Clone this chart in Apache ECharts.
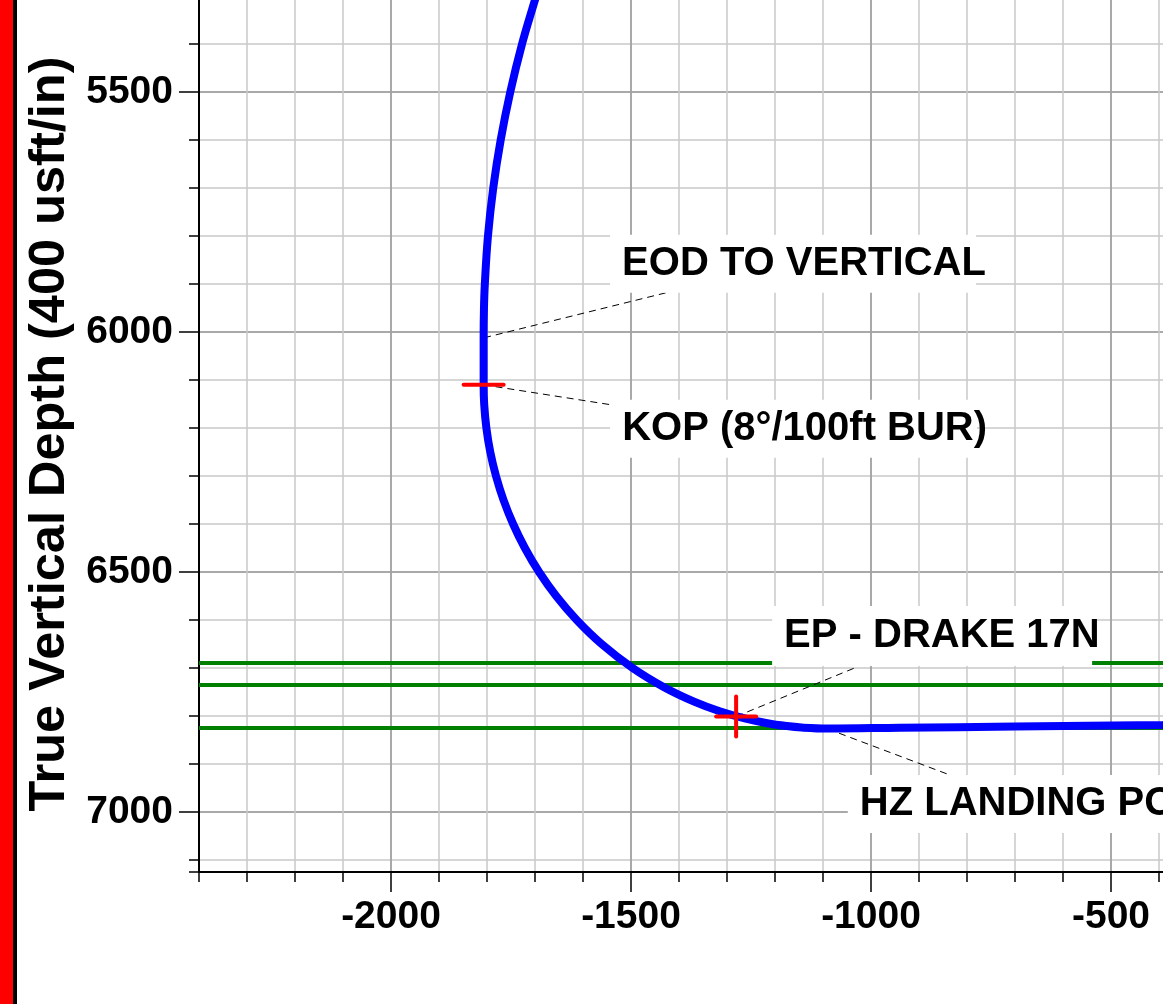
<!DOCTYPE html>
<html>
<head>
<meta charset="utf-8">
<script src="https://cdn.jsdelivr.net/npm/echarts@6/dist/echarts.min.js"></script>
<style>
  html, body { margin: 0; padding: 0; background: #fff; }
  #chart { width: 1163px; height: 1004px; }
</style>
</head>
<body>
<div id="chart"></div>
<script>
// ---- data ----
const xMajorTicks = [-2000, -1500, -1000, -500];
const yMajorTicks = [5500, 6000, 6500, 7000];
const yAxisTitle = 'True Vertical Depth (400 usft/in)';

// well path: horizontal position and true vertical depth
const wellX = [-1694.4, -1700, -1727, -1751.5, -1771.5, -1787, -1798, -1804.5, -1806.3, -1807, -1807,
  -1805.9, -1801.3, -1793.2, -1781.3, -1765.6, -1745.6, -1721.1, -1691.5, -1655.9, -1613.1,
  -1561.2, -1496.7, -1431.2, -1368.6, -1315.2, -1263.1, -1216, -1175.5, -1144.5, -1091,
  -940, -700, -392, -300];
const wellTVD = [5290, 5308, 5400, 5500, 5600, 5700, 5800, 5900, 5950, 6012, 6110,
  6150, 6200, 6250, 6300, 6350, 6400, 6450, 6500, 6550, 6600,
  6650, 6700, 6740, 6770, 6790, 6805, 6815, 6821, 6824, 6826,
  6824.4, 6822, 6819, 6818];

// formation tops (green lines)
const formationTops = [6689, 6735, 6824];

// annotations
const annText = ['EOD TO VERTICAL', 'KOP (8°/100ft BUR)', 'EP - DRAKE 17N', 'HZ LANDING POINT'];
const annX = [-1806, -1807, -1281, -1090];
const annTVD = [6012, 6110, 6801, 6827];
const annMarker = ['none', 'tick', 'cross', 'none'];

// ---- layout (pixel offsets from anchor: box [dx, dy, w, h], leader end [dx, dy]) ----
const annLayout = [
  { box: [126, -103, 366, 58], lead: [182, -45] },
  { box: [126.5, 15, 367, 58], lead: [127.5, 20] },
  { box: [36, -110.5, 320, 60], lead: [121, -49.5] },
  { box: [20, 46, 420, 58], lead: [122, 46] }
];

const FONT = '"Liberation Sans", Arial, sans-serif';
const labelStyle = { color: '#000', fontSize: 39, fontWeight: 'bold', fontFamily: FONT };
const fmt = v => String(v);

const chart = echarts.init(document.getElementById('chart'), null, { renderer: 'canvas' });

const option = {
  animation: false,
  backgroundColor: '#fff',
  grid: { left: 199, top: -4, width: 1008, height: 876, outerBoundsMode: 'none', containLabel: false },
  graphic: [
    { type: 'rect', left: 0, top: 0, shape: { x: 0, y: 0, width: 13, height: 1004 }, style: { fill: '#ff0000' }, z: 100 },
    { type: 'rect', left: 13, top: 0, shape: { x: 0, y: 0, width: 4, height: 1004 }, style: { fill: '#000' }, z: 100 }
  ],
  xAxis: [
    {
      type: 'value', position: 'bottom', min: -2400, max: -300, interval: 100,
      axisLine: { show: true, onZero: false, lineStyle: { color: '#000', width: 2 } },
      axisTick: { show: true, length: 10, lineStyle: { color: '#000', width: 1.5 } },
      axisLabel: { show: false },
      splitLine: { show: true, lineStyle: { color: '#c8c8c8', width: 1.5 } }
    },
    {
      type: 'value', position: 'bottom', min: -2400, max: -300,
      axisLine: { show: true, onZero: false, lineStyle: { color: '#000', width: 2 } },
      axisTick: { show: true, length: 20, customValues: xMajorTicks, lineStyle: { color: '#000', width: 1.5 } },
      axisLabel: Object.assign({ show: true, customValues: xMajorTicks, margin: 26, formatter: fmt }, labelStyle),
      splitLine: { show: true, lineStyle: { color: '#9a9a9a', width: 1.5 } }
    }
  ],
  yAxis: [
    {
      type: 'value', position: 'left', inverse: true, min: 5300, max: 7125, interval: 100,
      axisLine: { show: true, onZero: false, lineStyle: { color: '#000', width: 2 } },
      axisTick: { show: true, length: 10, lineStyle: { color: '#000', width: 1.5 } },
      axisLabel: { show: false },
      splitLine: { show: true, lineStyle: { color: '#c8c8c8', width: 1.5 } }
    },
    {
      type: 'value', position: 'left', inverse: true, min: 5300, max: 7125,
      name: yAxisTitle, nameLocation: 'middle', nameGap: 122,
      nameTextStyle: { color: '#000', fontSize: 50.5, fontWeight: 'bold', fontFamily: FONT },
      axisLine: { show: true, onZero: false, lineStyle: { color: '#000', width: 2 } },
      axisTick: { show: true, length: 20, customValues: yMajorTicks, lineStyle: { color: '#000', width: 1.5 } },
      axisLabel: Object.assign({ show: true, customValues: yMajorTicks, margin: 26, formatter: fmt }, labelStyle),
      splitLine: { show: true, lineStyle: { color: '#9a9a9a', width: 1.5 } }
    }
  ],
  series: [
    {
      name: 'formations', type: 'line', data: [], xAxisIndex: 0, yAxisIndex: 0, z: 2,
      markLine: {
        z: 2, silent: true, symbol: ['none', 'none'], label: { show: false },
        lineStyle: { color: '#008000', width: 4, type: 'solid' },
        emphasis: { disabled: true },
        data: formationTops.map(d => ({ yAxis: d }))
      }
    },
    {
      name: 'labels', type: 'custom', xAxisIndex: 0, yAxisIndex: 0, z: 3, silent: true,
      data: annText.map((t, i) => [annX[i], annTVD[i], i]),
      renderItem: function (params, api) {
        const i = api.value(2);
        const p = api.coord([api.value(0), api.value(1)]);
        const L = annLayout[i];
        return {
          type: 'group',
          children: [
            { type: 'line', shape: { x1: p[0], y1: p[1], x2: p[0] + L.lead[0], y2: p[1] + L.lead[1] },
              style: { stroke: '#000', lineWidth: 1, lineDash: [7, 5] } },
            { type: 'rect', shape: { x: p[0] + L.box[0], y: p[1] + L.box[1], width: L.box[2], height: L.box[3] },
              style: { fill: '#fff' } },
            { type: 'text', x: p[0] + L.box[0] + 12, y: p[1] + L.box[1] + L.box[3] / 2,
              style: { text: annText[i], fill: '#000', fontSize: 40, fontWeight: 'bold', fontFamily: FONT, align: 'left', verticalAlign: 'middle' } }
          ]
        };
      }
    },
    {
      name: 'well', type: 'line', xAxisIndex: 0, yAxisIndex: 0, z: 4,
      data: wellX.map((x, i) => [x, wellTVD[i]]),
      showSymbol: false, symbol: 'none', smooth: 0.4,
      lineStyle: { color: '#0000ff', width: 8 }
    },
    {
      name: 'markers', type: 'custom', xAxisIndex: 0, yAxisIndex: 0, z: 5, silent: true,
      data: annText.map((t, i) => [annX[i], annTVD[i], i]),
      renderItem: function (params, api) {
        const i = api.value(2);
        const p = api.coord([api.value(0), api.value(1)]);
        const kind = annMarker[i];
        const st = { stroke: '#ff0000', lineWidth: 4, lineCap: 'round' };
        const ch = [];
        if (kind === 'tick' || kind === 'cross') {
          ch.push({ type: 'line', shape: { x1: p[0] - 20, y1: p[1], x2: p[0] + 20, y2: p[1] }, style: st });
        }
        if (kind === 'cross') {
          ch.push({ type: 'line', shape: { x1: p[0], y1: p[1] - 20, x2: p[0], y2: p[1] + 20 }, style: st });
        }
        return { type: 'group', children: ch };
      }
    }
  ]
};
chart.setOption(option);
</script>
</body>
</html>
